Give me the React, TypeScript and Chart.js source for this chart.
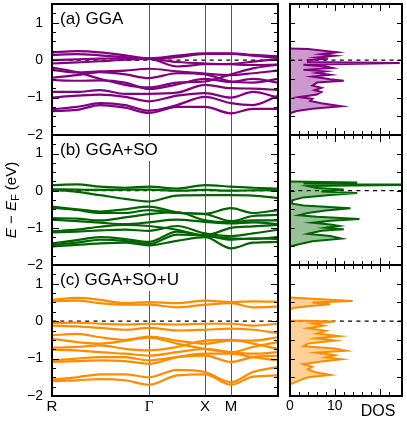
import React, { useEffect, useRef } from 'react';
import { Chart, registerables } from 'chart.js';

Chart.register(...registerables);

const SANS = "'Liberation Sans', Arial, Helvetica, sans-serif";
const SERIF = "'Liberation Serif', 'Times New Roman', serif";
Chart.defaults.font.family = SANS;

// k-path positions (distance units along R–Γ–X–M–…)
const kPoints = [0, 25, 48, 73, 97, 125, 153, 179, 201, 226];
const kTickValues = [0, 97, 153, 179];
const kTickLabels = ['R', 'Γ', 'X', 'M'];
const kMax = 226;

const energyMin = -2;
const energyMax = 1.5;

// band energies (eV) at kPoints
const bandsGGA = [
  [0.21, 0.24, 0.21, 0.13, 0.05, 0.12, 0.18, 0.18, 0.14, 0.10],
  [0.14, 0.16, 0.13, 0.08, 0.04, 0.08, 0.17, 0.17, 0.12, 0.06],
  [0.00, 0.02, 0.04, 0.05, 0.04, -0.17, -0.11, -0.10, -0.04, 0.03],
  [-0.09, -0.06, -0.03, 0.01, 0.03, -0.05, -0.09, -0.11, -0.13, -0.12],
  [-0.20, -0.32, -0.50, -0.66, -0.73, -0.60, -0.57, -0.38, -0.22, -0.12],
  [-0.26, -0.33, -0.30, -0.28, -0.23, -0.30, -0.36, -0.40, -0.35, -0.28],
  [-0.47, -0.40, -0.32, -0.38, -0.48, -0.35, -0.38, -0.57, -0.60, -0.50],
  [-0.53, -0.55, -0.54, -0.60, -0.77, -0.65, -0.50, -0.58, -0.50, -0.60],
  [-0.85, -0.85, -0.80, -0.90, -0.90, -0.87, -0.66, -0.75, -0.76, -0.80],
  [-1.00, -0.95, -0.92, -0.98, -1.10, -0.95, -0.88, -1.00, -0.85, -1.00],
  [-1.31, -1.25, -1.15, -1.20, -1.35, -1.20, -0.98, -1.15, -1.20, -0.95],
  [-1.36, -1.33, -1.20, -1.27, -1.41, -1.25, -1.25, -1.42, -1.30, -1.30],
];

const bandsGGASO = [
  [0.15, 0.17, 0.11, 0.08, 0.11, 0.06, 0.15, 0.11, 0.08, 0.06],
  [0.04, 0.03, 0.02, 0.03, 0.03, 0.00, 0.02, 0.00, 0.01, 0.02],
  [0.02, -0.03, -0.12, -0.22, -0.29, -0.13, -0.12, -0.12, -0.13, -0.20],
  [-0.43, -0.50, -0.56, -0.50, -0.43, -0.58, -0.62, -0.47, -0.60, -0.52],
  [-0.46, -0.52, -0.60, -0.60, -0.52, -0.60, -0.63, -0.82, -0.68, -0.65],
  [-0.74, -0.75, -0.80, -0.72, -0.63, -0.58, -0.80, -0.85, -0.80, -0.80],
  [-0.78, -0.82, -0.86, -0.90, -0.85, -0.78, -0.84, -0.88, -0.85, -0.90],
  [-1.09, -1.05, -0.97, -0.92, -0.95, -1.05, -1.20, -1.00, -0.96, -0.92],
  [-1.12, -1.10, -1.07, -1.05, -1.08, -0.95, -1.15, -1.22, -1.15, -1.05],
  [-1.42, -1.33, -1.25, -1.30, -1.38, -1.10, -1.22, -1.28, -1.30, -1.25],
  [-1.46, -1.40, -1.32, -1.35, -1.44, -1.18, -1.20, -1.32, -1.28, -1.30],
  [-1.50, -1.46, -1.42, -1.40, -1.47, -1.35, -1.25, -1.55, -1.40, -1.38],
];

const bandsGGASOU = [
  [0.57, 0.62, 0.57, 0.48, 0.51, 0.48, 0.55, 0.51, 0.53, 0.52],
  [0.53, 0.55, 0.48, 0.44, 0.44, 0.37, 0.44, 0.48, 0.37, 0.39],
  [-0.05, -0.04, -0.07, -0.09, -0.07, -0.09, -0.07, -0.07, -0.12, -0.07],
  [-0.12, -0.14, -0.18, -0.23, -0.18, -0.25, -0.23, -0.20, -0.23, -0.32],
  [-0.38, -0.34, -0.43, -0.50, -0.41, -0.52, -0.60, -0.52, -0.52, -0.43],
  [-0.47, -0.56, -0.60, -0.53, -0.44, -0.60, -0.74, -0.83, -0.69, -0.56],
  [-0.71, -0.69, -0.65, -0.74, -0.78, -0.69, -0.52, -0.50, -0.60, -0.74],
  [-0.76, -0.78, -0.83, -0.87, -0.92, -0.83, -0.74, -0.83, -0.87, -0.83],
  [-1.05, -1.00, -0.96, -0.96, -1.05, -0.96, -0.92, -1.09, -0.96, -0.92],
  [-1.09, -1.07, -1.05, -1.07, -1.14, -0.96, -0.87, -0.87, -0.96, -1.05],
  [-1.56, -1.50, -1.42, -1.42, -1.50, -1.30, -1.36, -1.63, -1.36, -1.22],
  [-1.60, -1.58, -1.55, -1.58, -1.70, -1.45, -1.42, -1.70, -1.48, -1.45],
];

// density of states
const dosGGAEnergy = [0.31, 0.30, 0.21, 0.16, 0.12, 0.07, 0.04, 0.00, -0.05, -0.075, -0.12, -0.17, -0.21, -0.26, -0.30, -0.34, -0.39, -0.44, -0.51, -0.55, -0.60, -0.68, -0.74, -0.80, -0.85, -0.92, -0.99, -1.03, -1.09, -1.15, -1.23, -1.30, -1.36, -1.42];
const dosGGAValue = [0, 4, 10.5, 7, 10, 6, 8.5, 4, 4, 24.5, 3, 8, 9.5, 3, 8, 6, 9, 5, 9, 12, 6, 5, 7, 5.5, 7, 6, 2, 5, 4.5, 7, 11.5, 5, 1.5, 0];

const dosSOEnergy = [0.25, 0.22, 0.195, 0.16, 0.125, 0.07, 0.03, -0.02, -0.06, -0.115, -0.18, -0.26, -0.35, -0.40, -0.47, -0.53, -0.60, -0.66, -0.70, -0.76, -0.81, -0.86, -0.91, -0.95, -1.00, -1.04, -1.08, -1.16, -1.22, -1.29, -1.36, -1.44, -1.50];
const dosSOValue = [0, 15, 3, 30, 4, 6, 12, 7, 15, 9, 3, 0.5, 0.5, 3, 13.5, 8, 4, 2, 6, 15.5, 9, 5, 9, 11, 8, 12, 7, 4, 9, 11.5, 5, 2, 0];

const dosUEnergy = [0.63, 0.60, 0.54, 0.50, 0.45, 0.40, 0.36, 0.31, 0.02, -0.01, -0.06, -0.12, -0.19, -0.26, -0.33, -0.40, -0.46, -0.52, -0.60, -0.67, -0.73, -0.79, -0.84, -0.91, -0.97, -1.02, -1.08, -1.15, -1.22, -1.29, -1.36, -1.44, -1.50, -1.59, -1.69];
const dosUValue = [0, 5, 14, 5, 9, 4, 1, 0, 0, 10, 5, 7.5, 4, 8, 6, 11, 6, 10, 4, 3, 10, 12.5, 6, 10, 8, 11.5, 7, 3, 5, 4, 5.5, 9, 4, 2, 0];

const dosMax = 25;
const dosLabeledTicks = [0, 10];

const panelLabels = ['(a) GGA', '(b) GGA+SO', '(c) GGA+SO+U'];
const lineColors = ['#800080', '#006400', '#ff8c00'];
const fillColors = ['rgba(128,0,128,0.4)', 'rgba(0,100,0,0.4)', 'rgba(255,140,0,0.4)'];

const allBands = [bandsGGA, bandsGGASO, bandsGGASOU];
const allDosEnergy = [dosGGAEnergy, dosSOEnergy, dosUEnergy];
const allDosValue = [dosGGAValue, dosSOValue, dosUValue];

// canvas placement per panel row
const rowTops = [2, 133, 263];
const rowHeights = [141, 140, 159];

const fmtTick = (v: number) => (v < 0 ? '\u2212' + String(-v) : String(v));

const zeroPadding = (s: any) => {
  s.paddingTop = 0;
  s.paddingBottom = 0;
  s.paddingLeft = 0;
  s.paddingRight = 0;
};

const panelPlugin = {
  id: 'panel',
  beforeDatasetsDraw(chart: any, _args: any, o: any) {
    const { ctx, chartArea: a } = chart;
    const y0 = chart.scales.y.getPixelForValue(0);
    ctx.save();
    ctx.setLineDash([4, 4.3]);
    ctx.lineWidth = 1.3;
    ctx.strokeStyle = '#000';
    ctx.beginPath();
    ctx.moveTo(a.left, y0);
    ctx.lineTo(a.right, y0);
    ctx.stroke();
    ctx.setLineDash([]);
    if (o.label) {
      ctx.font = `17px ${SANS}`;
      const w = ctx.measureText(o.label).width;
      ctx.fillStyle = '#fff';
      ctx.fillRect(a.left + 2, a.top + 2, w + 10, 24);
      ctx.fillStyle = '#000';
      ctx.textBaseline = 'middle';
      ctx.textAlign = 'left';
      ctx.fillText(o.label, a.left + 8, a.top + 15);
    }
    ctx.restore();
  },
  afterDatasetsDraw(chart: any, _args: any, o: any) {
    const { ctx, chartArea: a, scales } = chart;
    const isMajor = (v: number, every: number) =>
      every > 0 && Math.abs(v / every - Math.round(v / every)) < 1e-6;
    ctx.save();
    ctx.strokeStyle = '#000';
    ctx.lineWidth = 1;
    ctx.beginPath();
    const ys = scales.y;
    for (const t of ys.ticks) {
      const v = t.value;
      if (v <= ys.min + 1e-9 || v >= ys.max - 1e-9) continue;
      const p = Math.round(ys.getPixelForValue(v)) + 0.5;
      const len = isMajor(v, o.yMajorEvery) ? o.yMajorLen : o.yMinorLen;
      ctx.moveTo(a.left, p);
      ctx.lineTo(a.left + len, p);
      ctx.moveTo(a.right, p);
      ctx.lineTo(a.right - len, p);
    }
    if (o.xTicks) {
      const xs = scales.x;
      for (const t of xs.ticks) {
        const v = t.value;
        if (v <= xs.min + 1e-9 || v >= xs.max - 1e-9) continue;
        const p = Math.round(xs.getPixelForValue(v)) + 0.5;
        const len = isMajor(v, o.xMajorEvery) ? o.xMajorLen : o.xMinorLen;
        ctx.moveTo(p, a.top);
        ctx.lineTo(p, a.top + len);
        ctx.moveTo(p, a.bottom);
        ctx.lineTo(p, a.bottom - len);
      }
    }
    ctx.stroke();
    ctx.lineWidth = 2;
    ctx.strokeRect(a.left, a.top, a.right - a.left, a.bottom - a.top);
    ctx.restore();
  },
  afterDraw(chart: any, _args: any, o: any) {
    const { ctx, chartArea: a } = chart;
    if (o.yTitle) {
      const cy = (a.top + a.bottom) / 2;
      const parts = [
        { t: 'E', f: `italic 15px ${SANS}`, dy: 0 },
        { t: ' \u2212 ', f: `15px ${SANS}`, dy: 0 },
        { t: 'E', f: `italic 15px ${SANS}`, dy: 0 },
        { t: 'F', f: `11px ${SANS}`, dy: 4 },
        { t: ' (eV)', f: `15px ${SANS}`, dy: 0 },
      ];
      ctx.save();
      ctx.translate(12, cy);
      ctx.rotate(-Math.PI / 2);
      ctx.textBaseline = 'middle';
      ctx.textAlign = 'left';
      ctx.fillStyle = '#000';
      let total = 0;
      for (const p of parts) {
        ctx.font = p.f;
        total += ctx.measureText(p.t).width;
      }
      let x = -total / 2;
      for (const p of parts) {
        ctx.font = p.f;
        ctx.fillText(p.t, x, p.dy);
        x += ctx.measureText(p.t).width;
      }
      ctx.restore();
    }
    if (o.dosTitle) {
      ctx.save();
      ctx.font = `16px ${SANS}`;
      ctx.fillStyle = '#000';
      ctx.textAlign = 'center';
      ctx.textBaseline = 'middle';
      ctx.fillText(o.dosTitle, a.right - 24, a.bottom + 15.5);
      ctx.restore();
    }
  },
};

function bandConfig(i: number): any {
  const isLast = i === 2;
  return {
    type: 'line',
    data: {
      datasets: allBands[i].map((band) => ({
        data: kPoints.map((k, j) => ({ x: k, y: band[j] })),
        borderColor: lineColors[i],
        borderWidth: 2.2,
        pointRadius: 0,
        fill: false,
        cubicInterpolationMode: 'monotone',
      })),
    },
    options: {
      animation: false,
      responsive: false,
      devicePixelRatio: 1,
      events: [],
      layout: { padding: { top: 2, right: 4, bottom: isLast ? 0 : 8, left: 0 } },
      plugins: {
        legend: { display: false },
        tooltip: { enabled: false },
        panel: {
          label: panelLabels[i],
          yMajorEvery: 1,
          yMajorLen: 7,
          yMinorLen: 4,
          xTicks: false,
          yTitle: i === 1,
        },
      },
      scales: {
        x: {
          type: 'linear',
          min: 0,
          max: kMax,
          afterBuildTicks: (s: any) => {
            s.ticks = kTickValues.map((v) => ({ value: v }));
          },
          afterFit: (s: any) => {
            s.height = isLast ? 26 : 0;
            zeroPadding(s);
          },
          grid: { color: '#5a5a5a', lineWidth: 1, drawTicks: false },
          border: { display: false },
          ticks: {
            display: isLast,
            autoSkip: false,
            maxRotation: 0,
            padding: 2,
            color: '#000',
            font: (c: any) => ({ family: c.index === 1 ? SERIF : SANS, size: 15 }),
            callback: (_v: any, idx: number) => kTickLabels[idx],
          },
        },
        y: {
          type: 'linear',
          min: energyMin,
          max: energyMax,
          afterFit: (s: any) => {
            s.width = 52;
            zeroPadding(s);
          },
          grid: { display: false, drawTicks: false },
          border: { display: false },
          ticks: {
            stepSize: 0.25,
            autoSkip: false,
            padding: 9,
            color: '#000',
            font: { size: 14, family: SANS },
            callback: (v: number) => (Number.isInteger(v) ? fmtTick(v) : ''),
          },
        },
      },
    },
    plugins: [panelPlugin],
  };
}

function dosConfig(i: number): any {
  const isLast = i === 2;
  return {
    type: 'line',
    data: {
      datasets: [
        {
          data: allDosEnergy[i].map((e, j) => ({ x: allDosValue[i][j], y: e })),
          borderColor: lineColors[i],
          backgroundColor: fillColors[i],
          fill: 'origin',
          borderWidth: 2,
          pointRadius: 0,
          tension: 0,
        },
      ],
    },
    options: {
      indexAxis: 'y',
      animation: false,
      responsive: false,
      devicePixelRatio: 1,
      events: [],
      layout: { padding: { top: 2, right: 3, bottom: isLast ? 0 : 8, left: 10 } },
      plugins: {
        legend: { display: false },
        tooltip: { enabled: false },
        panel: {
          label: '',
          yMajorEvery: 0,
          yMajorLen: 5,
          yMinorLen: 5,
          xTicks: true,
          xMajorEvery: 10,
          xMajorLen: 7,
          xMinorLen: 4,
          dosTitle: isLast ? 'DOS' : '',
        },
      },
      scales: {
        x: {
          type: 'linear',
          min: 0,
          max: dosMax,
          afterFit: (s: any) => {
            s.height = isLast ? 26 : 0;
            zeroPadding(s);
          },
          grid: { display: false, drawTicks: false },
          border: { display: false },
          ticks: {
            display: isLast,
            stepSize: 2,
            autoSkip: false,
            maxRotation: 0,
            padding: 2,
            color: '#000',
            font: { size: 14, family: SANS },
            callback: (v: number) => (dosLabeledTicks.includes(v) ? String(v) : ''),
          },
        },
        y: {
          type: 'linear',
          min: energyMin,
          max: energyMax,
          afterFit: (s: any) => {
            s.width = 0;
            zeroPadding(s);
          },
          grid: { display: false, drawTicks: false },
          border: { display: false },
          ticks: { display: false, stepSize: 0.5 },
        },
      },
    },
    plugins: [panelPlugin],
  };
}

function ChartCanvas(props: { make: () => any; left: number; top: number; width: number; height: number }) {
  const ref = useRef<HTMLCanvasElement>(null);
  useEffect(() => {
    const chart = new Chart(ref.current as HTMLCanvasElement, props.make());
    return () => chart.destroy();
  }, []);
  return (
    <canvas
      ref={ref}
      width={props.width}
      height={props.height}
      style={{ position: 'absolute', left: props.left, top: props.top, width: props.width, height: props.height }}
    />
  );
}

export default function App() {
  return (
    <div style={{ position: 'absolute', left: 0, top: 0, width: 407, height: 422, background: '#fff', overflow: 'hidden' }}>
      {[0, 1, 2].map((i) => (
        <ChartCanvas key={'b' + i} make={() => bandConfig(i)} left={0} top={rowTops[i]} width={282} height={rowHeights[i]} />
      ))}
      {[0, 1, 2].map((i) => (
        <ChartCanvas key={'d' + i} make={() => dosConfig(i)} left={280} top={rowTops[i]} width={125} height={rowHeights[i]} />
      ))}
    </div>
  );
}
